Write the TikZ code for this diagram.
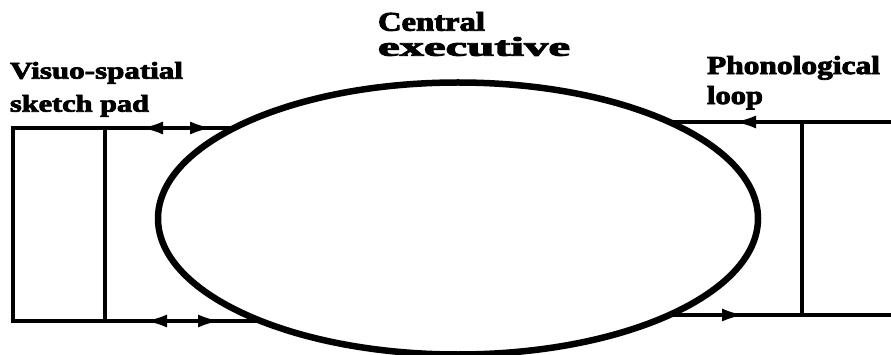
\documentclass[tikz,border=0pt]{standalone}
\usepackage{fontspec}
\setmainfont{Liberation Serif}
\newfontfamily\heavyserif{Liberation Serif Bold}[FakeBold=3]
\usetikzlibrary{arrows.meta,decorations.markings,shapes.geometric}
\tikzset{ah/.tip={Latex[length=22pt,width=13pt]}}
\begin{document}
\begin{tikzpicture}[x=1pt,y=-1pt,
  lbl/.style={inner sep=0pt, outer sep=0pt, align=left, anchor=north west},
  storebox/.style={draw, line width=3.2pt, inner sep=0pt, outer sep=0pt, rectangle},
  conn/.style={draw, line width=3.2pt},
  centre/.style={draw, ellipse, line width=6.5pt, inner sep=0pt, outer sep=0pt}]
\useasboundingbox (0,0) rectangle (891,355);
\clip (0,0) rectangle (891,355);
\node[centre, minimum width=600pt, minimum height=272pt] (ce) at (458,218.5) {};
\node[storebox, minimum width=92pt, minimum height=193pt] (vs) at (59,224.5) {};
\node[storebox, minimum width=93pt, minimum height=193pt] (pl) at (848.5,218.5) {};
\node[lbl, font=\fontsize{24}{33}\selectfont\heavyserif] (vslbl) at (10,62)
  {\resizebox{173pt}{\height}{Visuo-spatial}\\\resizebox{139pt}{\height}{sketch pad}};
\node[lbl, font=\fontsize{27}{25}\selectfont\heavyserif] (celbl) at (378,12)
  {\resizebox{107pt}{\height}{Central}\\\resizebox{192pt}{\height}{executive}};
\node[lbl, font=\fontsize{26}{30}\selectfont\heavyserif] (pllbl) at (707,56)
  {\resizebox{173pt}{\height}{Phonological}\\\resizebox{56pt}{\height}{loop}};
\path[conn, postaction={decorate, decoration={markings,
   mark=at position 36pt with {\arrowreversed{ah}},
   mark=at position 107pt with {\arrow{ah}}}}]
  (vs.north east) -- (ce.158 |- vs.north east);
\path[conn, postaction={decorate, decoration={markings,
   mark=at position 40pt with {\arrowreversed{ah}},
   mark=at position 115pt with {\arrow{ah}}}}]
  (vs.south east) -- (ce.207.5 |- vs.south east);
\path[conn, postaction={decorate, decoration={markings,
   mark=at position 68pt with {\arrow{ah}}}}]
  (pl.north west) -- (ce.24.6 |- pl.north west);
\path[conn, postaction={decorate, decoration={markings,
   mark=at position 58pt with {\arrowreversed{ah}}}}]
  (pl.south west) -- (ce.-24.6 |- pl.south west);
\end{tikzpicture}
\end{document}
